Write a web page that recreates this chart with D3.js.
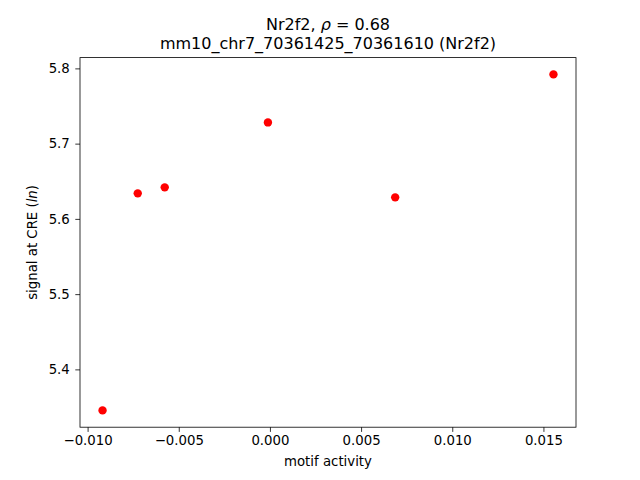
<!DOCTYPE html>
<html>
<head>
<meta charset="utf-8">
<script src="https://cdn.jsdelivr.net/npm/d3@7"></script>
<style>
  body { margin: 0; background: #fff; }
  svg text { font-family: "DejaVu Sans", sans-serif; fill: #000; }
</style>
</head>
<body>
<div id="chart"></div>
<script>
'use strict';

// motif activity vs signal at CRE, one point per sample
var motifActivity = [-0.00918, -0.00725, -0.00577, -0.00011, 0.00687, 0.01555];
var creSignal = [5.3455, 5.6339, 5.6419, 5.7282, 5.6286, 5.7920];
var xTicks = [-0.010, -0.005, 0.000, 0.005, 0.010, 0.015];
var yTicks = [5.4, 5.5, 5.6, 5.7, 5.8];

var points = motifActivity.map(function(x, i) {
  return { x: x, y: creSignal[i] };
});

var width = 640;
var height = 480;
var margin = { top: 57.6, right: 64, bottom: 52.8, left: 80 };

// matplotlib-style 5% padding around the data
function padded(vals) {
  var ext = d3.extent(vals);
  var pad = (ext[1] - ext[0]) * 0.05;
  return [ext[0] - pad, ext[1] + pad];
}

var xScale = d3.scaleLinear()
  .domain(padded(motifActivity))
  .range([margin.left, width - margin.right]);

var yScale = d3.scaleLinear()
  .domain(padded(creSignal))
  .range([height - margin.bottom, margin.top]);

var minus = function(s) { return s.replace('-', '\u2212'); };

var svg = d3.select('#chart')
  .append('svg')
  .attr('width', width)
  .attr('height', height);

var xAxis = d3.axisBottom(xScale)
  .tickValues(xTicks)
  .tickSize(4.7)
  .tickPadding(3.5)
  .tickFormat(function(d) { return minus(d3.format('.3f')(d)); });

var yAxis = d3.axisLeft(yScale)
  .tickValues(yTicks)
  .tickSize(4.7)
  .tickPadding(5.5)
  .tickFormat(d3.format('.1f'));

var gx = svg.append('g')
  .attr('transform', 'translate(0,' + (height - margin.bottom) + ')')
  .call(xAxis);

var gy = svg.append('g')
  .attr('transform', 'translate(' + margin.left + ',0)')
  .call(yAxis);

[gx, gy].forEach(function(g) {
  g.select('.domain').remove();
  g.selectAll('.tick line').attr('stroke', '#000').attr('stroke-width', 0.8);
  g.selectAll('.tick text').attr('font-size', '13.3px')
    .attr('font-family', '"DejaVu Sans", sans-serif').attr('fill', '#000');
});

// plot frame
svg.append('rect')
  .attr('x', margin.left)
  .attr('y', margin.top)
  .attr('width', width - margin.left - margin.right)
  .attr('height', height - margin.top - margin.bottom)
  .attr('fill', 'none')
  .attr('stroke', '#000')
  .attr('stroke-width', 0.8);

svg.selectAll('circle.pt')
  .data(points)
  .enter()
  .append('circle')
  .attr('class', 'pt')
  .attr('cx', function(d) { return xScale(d.x); })
  .attr('cy', function(d) { return yScale(d.y); })
  .attr('r', 4.2)
  .attr('fill', '#ff0000');

var cx = (margin.left + width - margin.right) / 2;

// title, two lines
var t1 = svg.append('text')
  .attr('x', cx)
  .attr('y', 30)
  .attr('text-anchor', 'middle')
  .attr('font-size', '16px');
t1.append('tspan').text('Nr2f2, ');
t1.append('tspan').attr('font-style', 'italic').text('\u03c1');
t1.append('tspan').text(' = 0.68');

svg.append('text')
  .attr('x', cx)
  .attr('y', 49)
  .attr('text-anchor', 'middle')
  .attr('font-size', '16px')
  .text('mm10_chr7_70361425_70361610 (Nr2f2)');

svg.append('text')
  .attr('x', cx)
  .attr('y', 466)
  .attr('text-anchor', 'middle')
  .attr('font-size', '13.3px')
  .text('motif activity');

var yl = svg.append('text')
  .attr('transform', 'translate(37,' + ((margin.top + height - margin.bottom) / 2) + ') rotate(-90)')
  .attr('text-anchor', 'middle')
  .attr('font-size', '13.3px');
yl.append('tspan').text('signal at CRE (');
yl.append('tspan').attr('font-style', 'italic').text('ln');
yl.append('tspan').text(')');
</script>
</body>
</html>
